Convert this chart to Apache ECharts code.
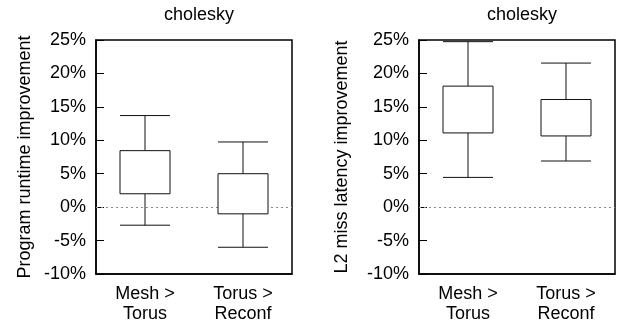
<!DOCTYPE html>
<html><head><meta charset="utf-8">
<script src="https://cdn.jsdelivr.net/npm/echarts@6/dist/echarts.min.js"></script>
<style>html,body{margin:0;padding:0;background:#fff}#c{width:618px;height:324px}</style>
</head><body><div id="c"></div>
<script>
const categories = ['Mesh >\nTorus', 'Torus >\nReconf'];
const yTicks = [-10, -5, 0, 5, 10, 15, 20, 25];
const panelTitles = ['cholesky', 'cholesky'];
const yNames = ['Program runtime improvement', 'L2 miss latency improvement'];
// [whisker low, Q1, Q3, whisker high] per category
const runtimeLow = [-2.7, -6.0];
const runtimeQ1 = [2.0, -1.0];
const runtimeQ3 = [8.45, 5.0];
const runtimeHigh = [13.7, 9.75];
const l2Low = [4.45, 6.9];
const l2Q1 = [11.1, 10.65];
const l2Q3 = [18.1, 16.1];
const l2High = [24.75, 21.55];

const FONT = "'Liberation Sans', Arial, sans-serif";
const chart = echarts.init(document.getElementById('c'), null, {renderer: 'canvas'});

function rows(lo, q1, q3, hi) {
  return categories.map((c, i) => [i, lo[i], q1[i], q3[i], hi[i]]);
}
function renderBox(params, api) {
  const i = api.value(0);
  const pLo = api.coord([i, api.value(1)]);
  const pQ1 = api.coord([i, api.value(2)]);
  const pQ3 = api.coord([i, api.value(3)]);
  const pHi = api.coord([i, api.value(4)]);
  const cx = pLo[0], hw = 25;
  const ls = {stroke: '#111', lineWidth: 1};
  return {type: 'group', children: [
    {type: 'line', shape: {x1: cx, y1: pHi[1], x2: cx, y2: pQ3[1]}, style: ls},
    {type: 'line', shape: {x1: cx, y1: pQ1[1], x2: cx, y2: pLo[1]}, style: ls},
    {type: 'line', shape: {x1: cx - hw, y1: pHi[1], x2: cx + hw, y2: pHi[1]}, style: ls},
    {type: 'line', shape: {x1: cx - hw, y1: pLo[1], x2: cx + hw, y2: pLo[1]}, style: ls},
    {type: 'rect', shape: {x: cx - hw, y: pQ3[1], width: 2 * hw, height: pQ1[1] - pQ3[1]},
      style: {fill: '#fff', stroke: '#111', lineWidth: 1}}
  ]};
}
const grids = [
  {left: 96, width: 196, top: 40, bottom: 49},
  {left: 419, width: 196, top: 40, bottom: 49}
];
const nameGaps = [62, 68];
const axisText = {color: '#000', fontFamily: FONT, fontSize: 18};
const option = {
  animation: false,
  title: panelTitles.map((t, k) => ({
    text: t, left: grids[k].left + grids[k].width / 2, textAlign: 'center', top: 1,
    textStyle: {color: '#000', fontFamily: FONT, fontSize: 18, fontWeight: 'normal'}
  })),
  grid: grids.map(g => Object.assign({show: true, borderColor: '#000', borderWidth: 1.5, backgroundColor: 'transparent'}, g)),
  xAxis: [0, 1].map(k => ({
    type: 'category', gridIndex: k, data: categories,
    axisLine: {onZero: false, lineStyle: {color: '#000', width: 1.5}},
    axisTick: {inside: true, length: 8, alignWithLabel: true, lineStyle: {color: '#000', width: 1}},
    axisLabel: Object.assign({margin: 10, lineHeight: 20, interval: 0}, axisText),
    splitLine: {show: false}
  })),
  yAxis: [0, 1].map(k => ({
    type: 'value', gridIndex: k, min: yTicks[0], max: yTicks[yTicks.length - 1], interval: 5,
    name: yNames[k], nameLocation: 'middle', nameGap: nameGaps[k],
    nameTextStyle: {color: '#000', fontFamily: FONT, fontSize: 18},
    axisLine: {show: true, lineStyle: {color: '#000', width: 1.5}},
    axisTick: {show: true, inside: true, length: 8, lineStyle: {color: '#000', width: 1}},
    axisLabel: Object.assign({margin: 10, formatter: '{value}%'}, axisText),
    splitLine: {show: false}
  })),
  series: [
    {type: 'line', xAxisIndex: 0, yAxisIndex: 0, data: [], z: 1, silent: true,
      markLine: {silent: true, z: 1, symbol: 'none', label: {show: false},
        lineStyle: {type: [2, 3], color: '#888', width: 1}, data: [{yAxis: 0}]}},
    {type: 'line', xAxisIndex: 1, yAxisIndex: 1, data: [], z: 1, silent: true,
      markLine: {silent: true, z: 1, symbol: 'none', label: {show: false},
        lineStyle: {type: [2, 3], color: '#888', width: 1}, data: [{yAxis: 0}]}},
    {type: 'custom', xAxisIndex: 0, yAxisIndex: 0, z: 10, renderItem: renderBox,
      data: rows(runtimeLow, runtimeQ1, runtimeQ3, runtimeHigh)},
    {type: 'custom', xAxisIndex: 1, yAxisIndex: 1, z: 10, renderItem: renderBox,
      data: rows(l2Low, l2Q1, l2Q3, l2High)}
  ]
};
chart.setOption(option);
</script></body></html>
